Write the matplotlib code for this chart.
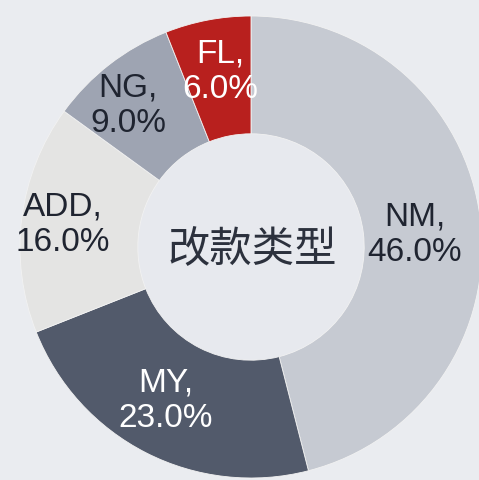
import matplotlib.pyplot as plt
import numpy as np

categories = ["NM", "MY", "ADD", "NG", "FL"]
shares = [46.0, 23.0, 16.0, 9.0, 6.0]
colors = ["#c6cad2", "#525a6b", "#e4e4e3", "#9ea4b2", "#b8201e"]
label_colors = ["#1f2430", "#ffffff", "#1f2430", "#1f2430", "#ffffff"]
center_title = "改款类型"

# small hand nudges so labels sit where the original put them
label_nudge = [(-0.049, -0.040), (-0.021, 0.020), (-0.055, 0.004),
               (-0.063, 0.011), (0.009, 0.011)]

plt.rcParams["font.family"] = ["Liberation Sans", "Noto Sans CJK SC", "DejaVu Sans"]

fig = plt.figure(figsize=(4.79, 4.81), dpi=100)
fig.patch.set_facecolor("#eaecf0")
ax = fig.add_axes([0, 0, 1, 1])
ax.set_facecolor("#eaecf0")

width = 0.51
wedges, _ = ax.pie(
    shares,
    colors=colors,
    startangle=90,
    counterclock=False,
    radius=1.0,
    wedgeprops=dict(width=width, edgecolor="#f2f2f2", linewidth=0.6),
)

label_r = 1.0 - width / 2 + 0.02
for w, name, pct, tc, (dx, dy) in zip(wedges, categories, shares, label_colors, label_nudge):
    mid = np.deg2rad((w.theta1 + w.theta2) / 2)
    x, y = label_r * np.cos(mid) + dx, label_r * np.sin(mid) + dy
    ax.text(x, y, f"{name},\n{pct:.1f}%", ha="center", va="center",
            fontsize=24, color=tc, linespacing=1.2)

ax.add_patch(plt.Circle((0, 0), 1.0 - width, color="#e7e9ee", zorder=0.5))
ax.text(0.004, -0.01, center_title, ha="center", va="center", fontsize=30.5,
        color="#2c313d", family=["Noto Sans CJK SC", "DejaVu Sans"])

ax.set_xlim(-251 / 231, (479 - 251) / 231)
ax.set_ylim(-(481 - 248) / 231, 248 / 231)
ax.set_aspect("equal")
ax.axis("off")

fig.savefig("out.png", dpi=100, facecolor=fig.get_facecolor())
